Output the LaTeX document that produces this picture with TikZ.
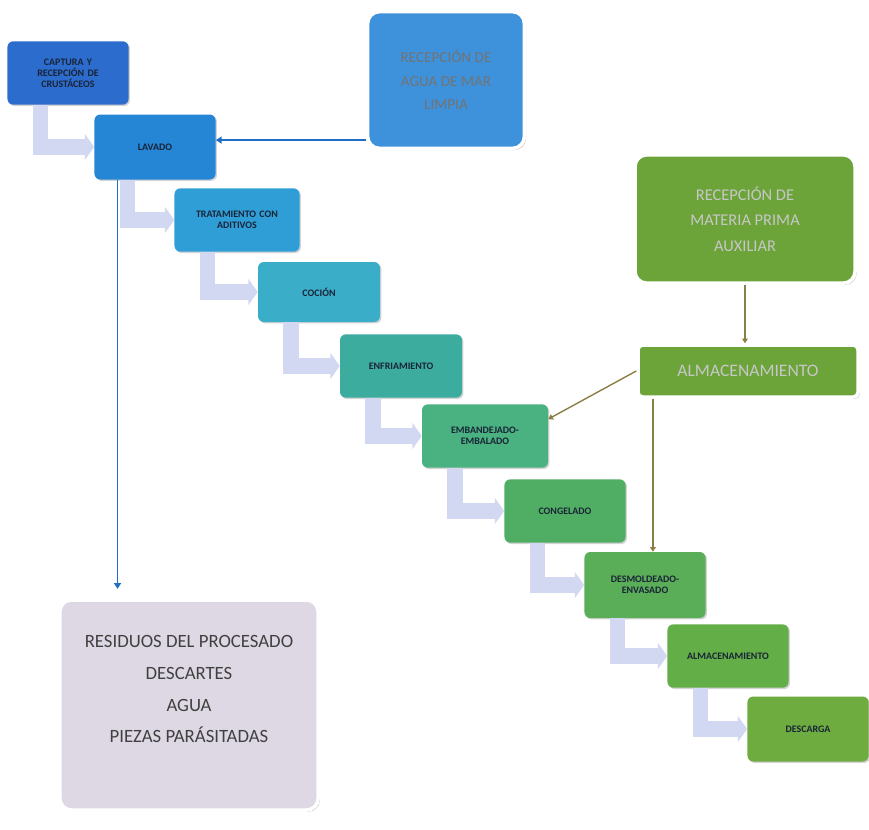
\documentclass[tikz,border=0pt]{standalone}
\usepackage{fontspec}
\setmainfont{Carlito}
\usetikzlibrary{arrows.meta,shadows,calc}
\definecolor{c1}{RGB}{44,108,205}
\definecolor{c2}{RGB}{38,134,214}
\definecolor{c3}{RGB}{48,158,214}
\definecolor{c4}{RGB}{58,174,200}
\definecolor{c5}{RGB}{60,172,158}
\definecolor{c6}{RGB}{74,178,128}
\definecolor{c7}{RGB}{80,174,100}
\definecolor{c8}{RGB}{90,174,88}
\definecolor{c9}{RGB}{100,174,72}
\definecolor{c10}{RGB}{110,172,64}
\definecolor{agua}{RGB}{62,146,220}
\definecolor{matp}{RGB}{108,164,58}
\definecolor{resid}{RGB}{222,216,228}
\definecolor{pale}{RGB}{210,216,242}
\definecolor{olive}{RGB}{138,128,70}
\definecolor{bluel}{RGB}{30,110,200}
\definecolor{ink}{RGB}{25,35,55}

\begin{document}
\begin{tikzpicture}[x=0.03cm,y=-0.03cm,
    every node/.style={font=\fontsize{8.5}{9.5}\selectfont\bfseries, align=center},
    stepbox/.style={rectangle, rounded corners=5pt, minimum width=3.6cm,
                    minimum height=1.9cm, text width=3.4cm, text=ink,
                    drop shadow={shadow xshift=1.2pt,shadow yshift=-1.2pt,opacity=0.35}},
    bigbox/.style={rectangle, rounded corners=10pt, draw=white, line width=3pt,
                   font=\fontsize{13}{20}\selectfont, text=black!55,
                   drop shadow={shadow xshift=1.5pt,shadow yshift=-1.5pt,opacity=0.4}},
    elbow/.style={draw=pale, line width=13pt, -{Triangle[width=22pt,length=8pt]}},
    bluearr/.style={draw=bluel, line width=1.5pt, -{Triangle[width=6pt,length=5pt]}},
    olivearr/.style={draw=olive, line width=1.2pt, -{Triangle[width=5pt,length=4pt]}}]
  \useasboundingbox (0,0) rectangle (869,829);

  % main line of the process
  \node[stepbox, fill=c1, minimum width=3.39cm] (cap) at (68,73)
       {CAPTURA Y\\RECEPCIÓN DE\\CRUSTÁCEOS};
  \node[stepbox, fill=c2, minimum height=1.95cm] (lav) at (155,147) {LAVADO};
  \node[stepbox, fill=c3, minimum width=3.75cm] (trat) at (237,220)
       {TRATAMIENTO CON\\ADITIVOS};
  \node[stepbox, fill=c4, minimum width=3.66cm, minimum height=1.8cm] (coc) at (319,292) {COCIÓN};
  \node[stepbox, fill=c5, minimum width=3.66cm] (enf) at (401,366) {ENFRIAMIENTO};
  \node[stepbox, fill=c6, minimum width=3.78cm] (emb) at (485,436)
       {EMBANDEJADO-\\EMBALADO};
  \node[stepbox, fill=c7] (con) at (565,511) {CONGELADO};
  \node[stepbox, fill=c8, minimum height=1.98cm] (des) at (645,585)
       {DESMOLDEADO-\\ENVASADO};
  \node[stepbox, fill=c9] (alm) at (728,656) {ALMACENAMIENTO};
  \node[stepbox, fill=c10, minimum width=3.39cm, minimum height=1.95cm] (dsc) at (808,729) {DESCARGA};

  % side boxes
  \node[bigbox, fill=agua, minimum width=4.7cm, minimum height=4.1cm] (agu) at (446,80)
       {RECEPCIÓN DE\\AGUA DE MAR\\LIMPIA};
  \node[bigbox, fill=matp, minimum width=6.6cm, minimum height=3.85cm,
        font=\fontsize{14}{22}\selectfont, text=white!78!black] (mat) at (745,219)
       {RECEPCIÓN DE\\MATERIA PRIMA\\AUXILIAR};
  \node[bigbox, fill=matp, rounded corners=4pt, minimum width=6.6cm, minimum height=1.56cm,
        font=\fontsize{15}{16}\selectfont, text=white!78!black] (alm2) at (748,371) {ALMACENAMIENTO};
  \node[bigbox, fill=resid, minimum width=7.75cm, minimum height=6.3cm,
        font=\fontsize{16}{27}\selectfont, text=black!75] (res) at (189,705)
       {RESIDUOS DEL PROCESADO\\DESCARTES\\AGUA\\PIEZAS PARÁSITADAS\\\mbox{}};

  % elbow arrows
  \foreach \a/\b in {cap/lav, lav/trat, trat/coc, coc/enf, enf/emb,
                     emb/con, con/des, des/alm, alm/dsc}
    \draw[elbow] ([xshift=1cm]\a.south west) |- (\b.west);

  % connectors
  \coordinate (a1) at ([yshift=0.3cm]agu.south west);
  \draw[bluearr] (a1) -- (a1 -| lav.east);
  \coordinate (l1) at ([xshift=0.7cm]lav.south west);
  \draw[bluearr, shorten >=8pt] (l1) -- (l1 |- res.north);
  \draw[olivearr] (mat.south) -- (mat.south |- alm2.north);
  \draw[olivearr] (alm2.west) -- ([yshift=-0.45cm]emb.north east);
  \coordinate (m1) at ([xshift=0.5cm]alm2.south west);
  \draw[olivearr] (m1) -- (m1 |- des.north);
\end{tikzpicture}
\end{document}
